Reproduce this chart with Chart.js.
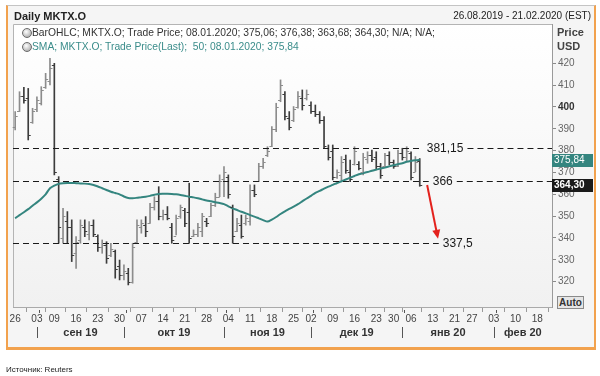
<!DOCTYPE html>
<html>
<head>
<meta charset="utf-8">
<script src="https://cdn.jsdelivr.net/npm/chart.js@4.4.0/dist/chart.umd.min.js"></script>
<style>
body{margin:0;width:600px;height:376px;background:#fff;position:relative;overflow:hidden;font-family:"Liberation Sans",Arial,sans-serif;}
#frame{position:absolute;left:6px;top:5px;width:586px;height:341px;background:#f5f5f5;border-top:1px solid #c4c4c4;border-left:2px solid #f2a24e;border-right:2px solid #f2a24e;border-bottom:3px solid #f2a24e;}
#wrap{position:absolute;left:0;top:0;}
.t{position:absolute;white-space:nowrap;line-height:12px;}
.ico{position:absolute;width:8px;height:8px;border-radius:50%;border:1px solid #6a6a6a;background:radial-gradient(circle at 40% 35%,#fff,#9a9a9a);}
#auto{position:absolute;left:557px;top:296px;width:25px;height:11px;border:1px solid #8a8a8a;background:#e6e6e6;font-size:10px;font-weight:bold;color:#333;line-height:11px;text-align:center;}
</style>
</head>
<body>
<div id="frame"></div>
<div id="wrap"><canvas id="c" width="600" height="376"></canvas></div>
<div class="t" style="left:14px;top:10px;font-size:11px;font-weight:bold;color:#222">Daily MKTX.O</div>
<div class="t" style="right:9px;top:10px;font-size:10px;color:#222">26.08.2019 - 21.02.2020 (EST)</div>
<div class="ico" style="left:22px;top:28px"></div>
<div class="t" style="left:32px;top:27px;font-size:10.3px;color:#333">BarOHLC; MKTX.O; Trade Price; 08.01.2020; 375,06; 376,38; 363,68; 364,30; N/A; N/A;</div>
<div class="ico" style="left:22px;top:42px"></div>
<div class="t" style="left:32px;top:41px;font-size:10.3px;color:#3a8c8a">SMA; MKTX.O; Trade Price(Last);&nbsp; 50; 08.01.2020; 375,84</div>
<div class="t" style="left:557px;top:26px;font-size:11px;font-weight:bold;color:#444">Price</div>
<div class="t" style="left:557px;top:40px;font-size:11px;font-weight:bold;color:#444">USD</div>
<div id="auto">Auto</div>
<div class="t" style="left:6px;top:364px;font-size:8px;color:#222">Источник: Reuters</div>
<script>
// trading days shown on the axis (26.08.2019 - 21.02.2020)
const dates = [
  '26.08','27.08','28.08','29.08','30.08',
  '03.09','04.09','05.09','06.09',
  '09.09','10.09','11.09','12.09','13.09',
  '16.09','17.09','18.09','19.09','20.09',
  '23.09','24.09','25.09','26.09','27.09',
  '30.09','01.10','02.10','03.10','04.10',
  '07.10','08.10','09.10','10.10','11.10',
  '14.10','15.10','16.10','17.10','18.10',
  '21.10','22.10','23.10','24.10','25.10',
  '28.10','29.10','30.10','31.10','01.11',
  '04.11','05.11','06.11','07.11','08.11',
  '11.11','12.11','13.11','14.11','15.11',
  '18.11','19.11','20.11','21.11','22.11',
  '25.11','26.11','27.11','29.11',
  '02.12','03.12','04.12','05.12','06.12',
  '09.12','10.12','11.12','12.12','13.12',
  '16.12','17.12','18.12','19.12','20.12',
  '23.12','24.12','26.12','27.12',
  '30.12','31.12','02.01','03.01',
  '06.01','07.01','08.01','09.01','10.01',
  '13.01','14.01','15.01','16.01','17.01',
  '21.01','22.01','23.01','24.01',
  '27.01','28.01','29.01','30.01','31.01',
  '03.02','04.02','05.02','06.02','07.02',
  '10.02','11.02','12.02','13.02','14.02',
  '18.02','19.02','20.02','21.02'
];
const monthLabels = ['авг 19','сен 19','окт 19','ноя 19','дек 19','янв 20','фев 20'];

const opens = [391,398,405,404,393,399,402,409,412,419,
  367,340,348,345,333,339,345,342,346,341,
  336,337,332,334,327,323,324,320,338,345,
  346,347,354,357,350,351,345,341,350,353,
  352,341,342,343,348,350,355,359,367,368,
  354,343,346,347,348,362,366,373,378,382,
  390,403,406,395,394,400,404,404,401,398,
  397,394,381,380,368,369,376,370,374,374,
  370,376,378,377,373,373,378,375,373,379,
  377,379,370,375.06];
const highs = [397.9,407.0,409.0,408.5,399.4,404.7,409.3,415.4,422.3,420.0,
  368.1,353.6,352.1,348.3,340.6,348.3,348.3,347.5,348.3,341.4,
  339.1,338.3,337.6,334.5,329.9,327.7,326.1,337.6,348.3,348.3,
  349.8,355.9,358.9,363.5,352.8,354.4,346.7,350.5,355.1,353.6,
  365.1,343.7,346.7,351.3,349.0,355.9,360.5,368.9,372.7,368.9,
  355.1,349.0,350.5,350.5,364.3,364.3,374.2,376.5,381.8,391.0,
  401.7,412.4,407.0,397.9,400.2,407.0,407.8,407.8,402.4,400.9,
  397.9,395.6,382.6,382.6,371.2,377.3,378.0,375.7,381.8,375.0,
  378.8,379.5,380.3,379.5,374.2,378.8,379.5,375.7,380.3,381.1,
  381.8,379.5,377.3,376.38];
const lows = [389.5,397.9,401.7,384.9,392.5,397.9,400.9,408.5,410.1,368.9,
  337.6,337.6,337.6,329.2,326.1,337.6,340.6,339.1,340.6,333.8,
  333.0,328.4,331.5,321.6,320.8,320.8,318.5,319.3,337.6,342.2,
  340.6,346.7,352.8,348.3,348.3,348.3,337.6,341.4,349.0,345.2,
  337.6,340.6,340.6,340.6,345.2,349.8,354.4,358.9,358.9,358.2,
  337.6,342.9,339.9,345.9,345.9,358.9,365.8,371.9,377.3,381.8,
  388.7,402.4,394.1,389.5,393.3,399.4,398.6,403.2,397.1,395.6,
  392.5,381.1,375.7,366.6,367.3,366.6,369.6,365.8,373.4,371.2,
  368.9,374.2,375.0,371.2,367.3,372.7,373.4,371.9,372.7,375.7,
  375.0,366.6,370.4,363.68];
const closes = [396,405,403,387,398,403,408,413,418,370,
  345,350,345,332,338,346,343,346,342,336,
  337,331,335,326,323,325,320,336,346,347,
  343,354,357,350,351,349,339,349,354,347,
  340,342,345,350,347,355,359,366,370,360,
  341,347,341,349,362,360,373,375,380,390,
  400,410,396,391,399,405,401,406,398,397,
  394,382,377,368,370,375,371,367,380,372,
  377,378,376,373,369,378,375,373,379,377,
  380,368,375,364.30];
// SMA(50)
const sma = [349.0,350.5,351.8,353.2,354.8,356.3,358.0,360.0,362.8,364.0,
  364.8,365.1,365.2,365.2,365.1,365.0,364.9,364.7,364.3,363.6,
  362.8,362.0,361.2,360.6,360.0,359.0,358.3,358.2,358.4,358.7,
  358.9,359.3,359.8,360.2,360.3,360.3,360.2,360.0,359.7,359.3,
  358.9,358.6,358.2,357.7,357.2,356.8,356.4,356.0,355.5,354.5,
  353.6,352.8,352.0,351.3,350.5,349.8,349.0,348.2,347.5,348.4,
  349.6,351.0,352.2,353.3,354.4,355.5,356.8,358.1,359.3,360.7,
  361.6,362.6,363.5,364.3,365.2,366.0,366.8,367.6,368.4,369.2,
  369.7,370.2,370.8,371.3,371.8,372.3,372.8,373.3,373.8,374.2,
  374.9,375.3,375.6,375.84];

const yTicks = [320,330,340,350,360,370,380,390,400,410,420];
const levels = [381.15, 366, 337.5];
const levelLabels = ['381,15', '366', '337,5'];
const levelGap = [7, 13, 23];        // px from last bar to label
const arrowFrom = [94.7, 364.3];
const arrowTo = [97.2, 339.6];

const FONT = '"Liberation Sans", Arial, sans-serif';
const UP = '#8c8c8c', DOWN = '#3c3c3c', TEAL = '#34857f';
const last = closes.length - 1;

// week and month starts from the calendar
const dayOfWeek = dates.map(d => {
  const dd = +d.slice(0, 2), mm = +d.slice(3, 5);
  return new Date(mm >= 8 ? 2019 : 2020, mm - 1, dd).getDay();
});
const idx = dates.map((d, i) => i);
const weekStarts = idx.filter(i => i === 0 || dayOfWeek[i] <= dayOfWeek[i - 1]);
const monthStarts = idx.filter(i => i === 0 || dates[i].slice(3) !== dates[i - 1].slice(3));

const barColors = closes.map((c, i) => c >= opens[i] ? UP : DOWN);

const ohlcPlugin = {
  id: 'ohlc',
  beforeDraw(chart) {
    const {ctx, chartArea: a} = chart;
    const g = ctx.createLinearGradient(0, a.top, 0, a.bottom);
    g.addColorStop(0, '#ffffff');
    g.addColorStop(1, '#f1f1f1');
    ctx.save();
    ctx.fillStyle = g;
    ctx.fillRect(a.left, a.top, a.right - a.left, a.bottom - a.top);
    ctx.strokeStyle = '#b4b4b4';
    ctx.lineWidth = 1;
    ctx.beginPath();
    ctx.moveTo(a.left + 0.5, a.bottom);
    ctx.lineTo(a.left + 0.5, a.top + 0.5);
    ctx.lineTo(a.right, a.top + 0.5);
    ctx.stroke();
    ctx.restore();
  },
  afterDatasetsDraw(chart) {
    const {ctx, scales: {x, y}} = chart;
    ctx.save();
    ctx.lineWidth = 1;
    for (let i = 0; i < opens.length; i++) {
      const cx = x.getPixelForValue(i);
      const yo = Math.round(y.getPixelForValue(opens[i])) + 0.5;
      const yc = Math.round(y.getPixelForValue(closes[i])) + 0.5;
      ctx.strokeStyle = barColors[i];
      ctx.beginPath();
      ctx.moveTo(cx - 2.5, yo); ctx.lineTo(cx, yo);
      ctx.moveTo(cx, yc); ctx.lineTo(cx + 2.5, yc);
      ctx.stroke();
    }
    ctx.restore();
  },
  afterDraw(chart) {
    const {ctx, chartArea: a, scales: {x, y}} = chart;
    ctx.save();
    // support / resistance levels
    ctx.font = '12px ' + FONT;
    ctx.textBaseline = 'middle';
    ctx.textAlign = 'left';
    levels.forEach((v, k) => {
      const yy = Math.round(y.getPixelForValue(v)) + 0.5;
      const tx = x.getPixelForValue(last) + levelGap[k];
      const tw = ctx.measureText(levelLabels[k]).width;
      ctx.strokeStyle = '#1a1a1a';
      ctx.lineWidth = 1;
      ctx.setLineDash([6, 4]);
      ctx.beginPath();
      ctx.moveTo(a.left, yy); ctx.lineTo(tx - 4, yy);
      if (k < 2) { ctx.moveTo(tx + tw + 4, yy); ctx.lineTo(a.right, yy); }
      ctx.stroke();
      ctx.setLineDash([]);
      ctx.fillStyle = '#1a1a1a';
      ctx.fillText(levelLabels[k], tx, yy);
    });
    // red arrow
    const x1 = x.getPixelForValue(arrowFrom[0]), y1 = y.getPixelForValue(arrowFrom[1]);
    const x2 = x.getPixelForValue(arrowTo[0]), y2 = y.getPixelForValue(arrowTo[1]);
    const ang = Math.atan2(y2 - y1, x2 - x1);
    ctx.strokeStyle = '#e3211c';
    ctx.fillStyle = '#e3211c';
    ctx.lineWidth = 2;
    ctx.beginPath();
    ctx.moveTo(x1, y1);
    ctx.lineTo(x2 - 7 * Math.cos(ang), y2 - 7 * Math.sin(ang));
    ctx.stroke();
    ctx.beginPath();
    ctx.moveTo(x2, y2);
    ctx.lineTo(x2 - 9 * Math.cos(ang) + 4 * Math.sin(ang), y2 - 9 * Math.sin(ang) - 4 * Math.cos(ang));
    ctx.lineTo(x2 - 9 * Math.cos(ang) - 4 * Math.sin(ang), y2 - 9 * Math.sin(ang) + 4 * Math.cos(ang));
    ctx.closePath();
    ctx.fill();
    // last value tags on the price axis
    [[sma[last], TEAL, ''], [closes[last], '#1a1a1a', 'bold ']].forEach(([v, bg, w]) => {
      const yy = Math.round(y.getPixelForValue(v));
      ctx.fillStyle = bg;
      ctx.fillRect(a.right, yy - 6, 41, 13);
      ctx.fillStyle = '#fff';
      ctx.font = w + '10px ' + FONT;
      ctx.textAlign = 'left';
      ctx.fillText(v.toFixed(2).replace('.', ','), a.right + 2, yy + 0.5);
    });
    // month row
    ctx.font = 'bold 11px ' + FONT;
    ctx.textAlign = 'center';
    ctx.fillStyle = '#333';
    ctx.strokeStyle = '#555';
    ctx.lineWidth = 1;
    monthStarts.forEach((s, k) => {
      const xs = x.getPixelForValue(s);
      const xe = k + 1 < monthStarts.length ? x.getPixelForValue(monthStarts[k + 1]) : a.right;
      if (s > 0) {
        ctx.beginPath();
        ctx.moveTo(Math.round(xs) + 0.5, 327); ctx.lineTo(Math.round(xs) + 0.5, 338);
        ctx.moveTo(Math.round(xs) + 2.5, 310); ctx.lineTo(Math.round(xs) + 2.5, 313);
        ctx.stroke();
      }
      if (xe - xs > 40) ctx.fillText(monthLabels[k], (xs + xe) / 2, 333);
    });
    ctx.restore();
  }
};

new Chart(document.getElementById('c'), {
  type: 'line',
  data: {
    datasets: [
      {
        type: 'line',
        data: sma.map((v, i) => ({x: i, y: v})),
        borderColor: TEAL,
        borderWidth: 2,
        pointRadius: 0,
        tension: 0.3,
        order: 0
      },
      {
        type: 'bar',
        data: highs.map((h, i) => ({x: i, y: [lows[i], h]})),
        backgroundColor: barColors,
        barThickness: 1,
        order: 1
      }
    ]
  },
  options: {
    responsive: false,
    animation: false,
    layout: {padding: {left: 13, top: 24, right: 0, bottom: 0}},
    plugins: {legend: {display: false}, tooltip: {enabled: false}},
    scales: {
      x: {
        type: 'linear',
        min: -0.5,
        max: 123.4,
        offset: false,
        grid: {drawOnChartArea: false, tickLength: 5, color: '#9a9a9a'},
        border: {color: '#aaaaaa'},
        ticks: {
          autoSkip: false, maxRotation: 0, padding: 1, color: '#444',
          font: {size: 10, family: FONT},
          callback: v => dates[v] ? dates[v].slice(0, 2) : ''
        },
        afterBuildTicks: s => { s.ticks = weekStarts.map(v => ({value: v})); },
        afterFit: s => { s.height = 69; }
      },
      y: {
        position: 'right',
        min: 308.4,
        max: 438.0,
        grid: {drawOnChartArea: false, tickLength: 4, color: '#8a8a8a'},
        border: {color: '#9a9a9a'},
        ticks: {
          padding: 2,
          color: c => c.tick && c.tick.value === 400 ? '#333' : '#666',
          font: c => ({size: 10, family: FONT, weight: c.tick && c.tick.value === 400 ? 'bold' : 'normal'}),
          callback: v => String(v)
        },
        afterBuildTicks: s => { s.ticks = yTicks.map(v => ({value: v})); },
        afterFit: s => { s.width = 48; }
      }
    }
  },
  plugins: [ohlcPlugin]
});
</script>
</body>
</html>
